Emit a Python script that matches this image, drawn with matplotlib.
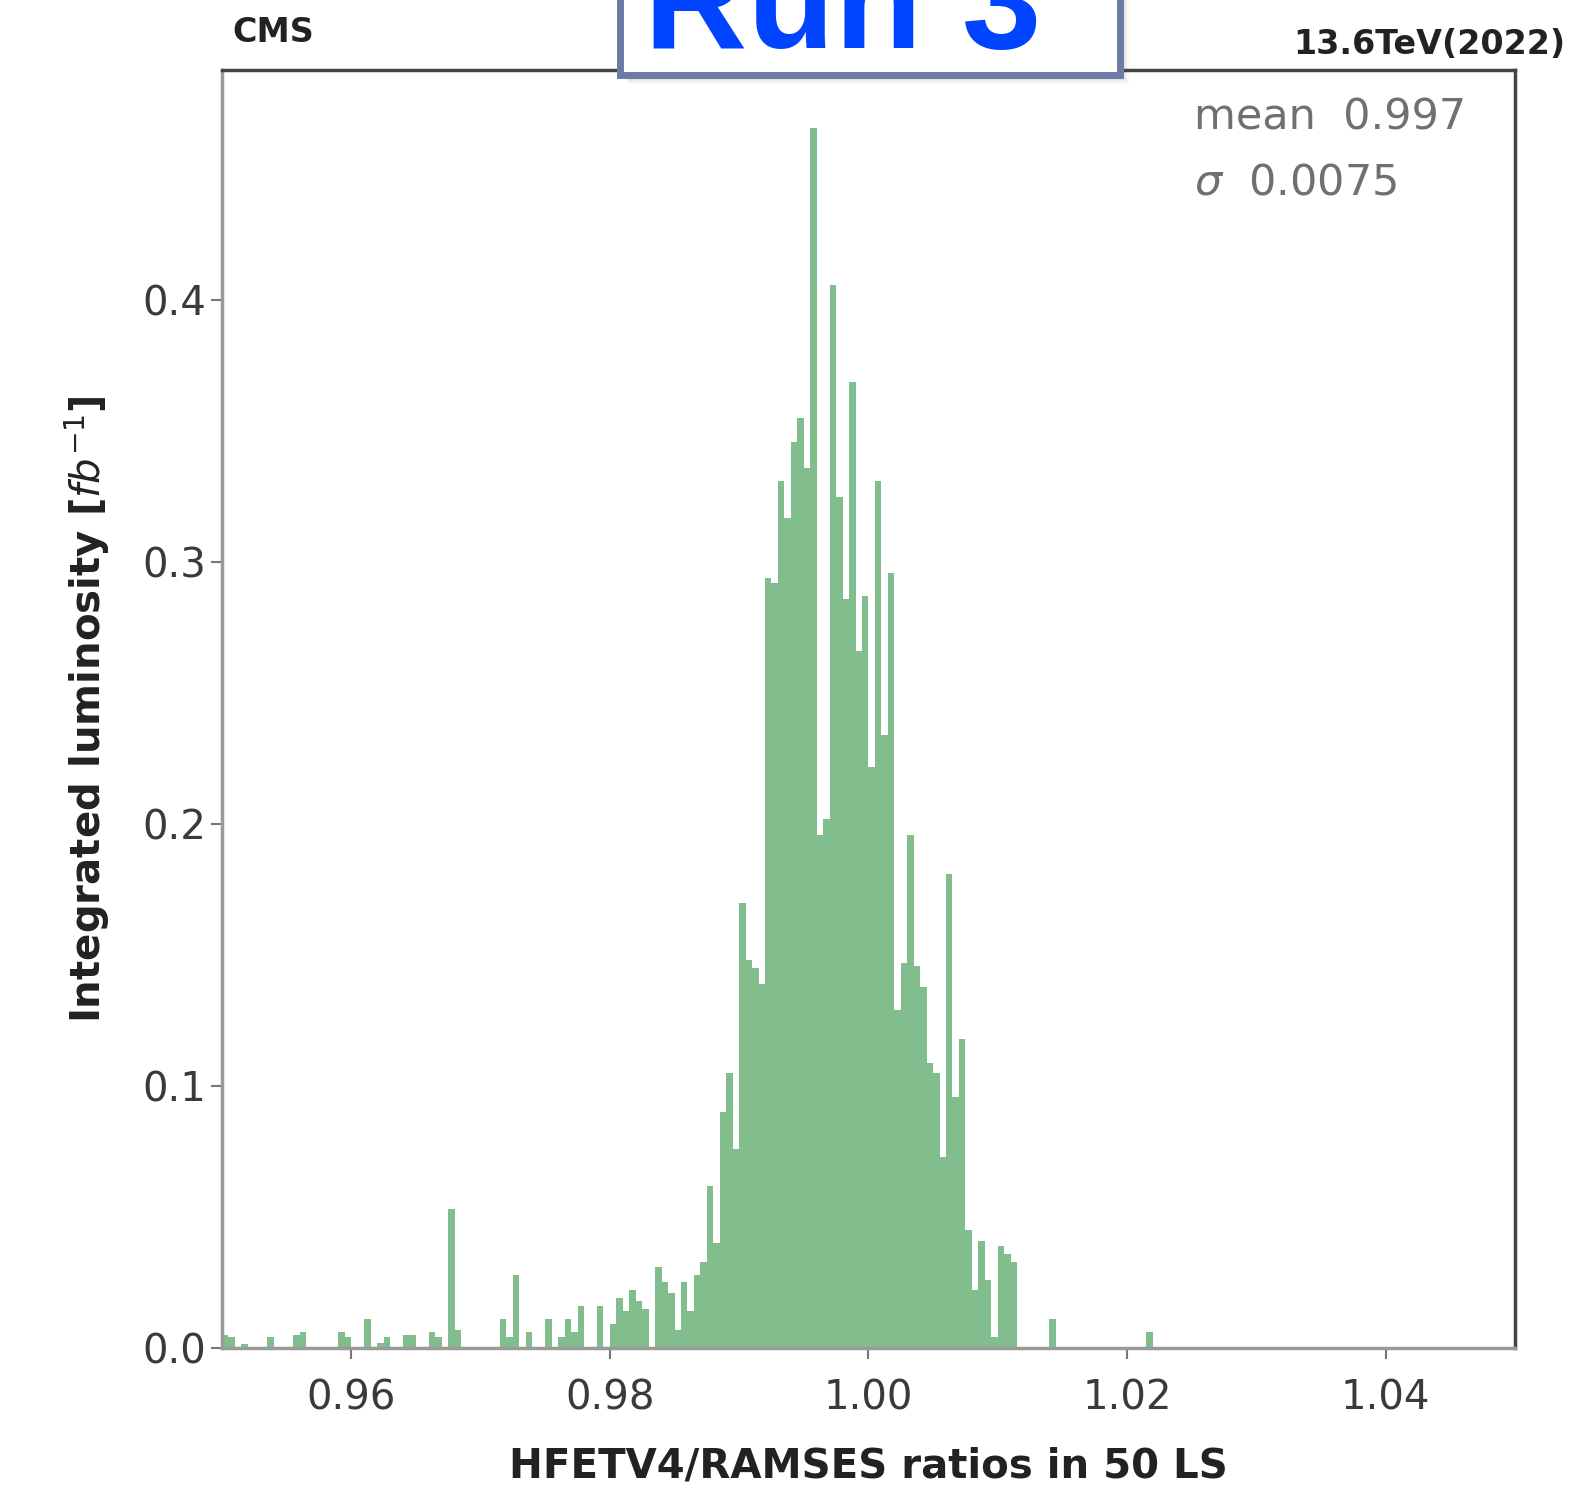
import numpy as np
import matplotlib
matplotlib.use("Agg")
import matplotlib.pyplot as plt
from matplotlib.patches import Rectangle

# Histogram of HFETV4/RAMSES ratios (50 LS blocks), weighted by integrated luminosity
bin_width = 0.0005
ratio_start = 0.95
lumi_per_bin = [
    0.005, 0.004, 0.0, 0.0015, 0.0, 0.0, 0.0, 0.004, 0.0, 0.0,       # 0.950 -
    0.0, 0.005, 0.006, 0.0, 0.0, 0.0, 0.0, 0.0, 0.006, 0.004,        # 0.955 -
    0.0, 0.0, 0.011, 0.0, 0.002, 0.004, 0.0, 0.0, 0.005, 0.005,      # 0.960 -
    0.0, 0.0, 0.006, 0.004, 0.0, 0.053, 0.007, 0.0, 0.0, 0.0,        # 0.965 -
    0.0, 0.0, 0.0, 0.011, 0.004, 0.028, 0.0, 0.006, 0.0, 0.0,        # 0.970 -
    0.011, 0.0, 0.004, 0.011, 0.006, 0.016, 0.0, 0.0, 0.016, 0.0,    # 0.975 -
    0.009, 0.019, 0.014, 0.022, 0.018, 0.015, 0.0, 0.031, 0.025, 0.021,   # 0.980 -
    0.007, 0.025, 0.014, 0.028, 0.033, 0.062, 0.040, 0.090, 0.105, 0.076, # 0.985 -
    0.170, 0.148, 0.145, 0.139, 0.294, 0.292, 0.331, 0.317, 0.346, 0.355, # 0.990 -
    0.336, 0.466, 0.196, 0.202, 0.406, 0.325, 0.286, 0.369, 0.266, 0.287, # 0.995 -
    0.222, 0.331, 0.234, 0.296, 0.129, 0.147, 0.196, 0.146, 0.138, 0.109, # 1.000 -
    0.105, 0.073, 0.181, 0.096, 0.118, 0.045, 0.022, 0.041, 0.026, 0.004, # 1.005 -
    0.039, 0.036, 0.033, 0.0, 0.0, 0.0, 0.0, 0.0, 0.011, 0.0,        # 1.010 -
    0.0, 0.0, 0.0, 0.0, 0.0, 0.0, 0.0, 0.0, 0.0, 0.0,                # 1.015 -
    0.0, 0.0, 0.0, 0.006,                                            # 1.020 -
]
mean_text = "mean  0.997"
sigma_text = r"$\sigma$  0.0075"
x_ticks = [0.96, 0.98, 1.00, 1.02, 1.04]
y_ticks = [0.0, 0.1, 0.2, 0.3, 0.4]

fig = plt.figure(figsize=(15.73, 14.87), dpi=100)
ax = fig.add_axes([0.1411, 0.0935, 0.8220, 0.8594])

left_edges = ratio_start + bin_width * np.arange(len(lumi_per_bin))
ax.bar(left_edges, lumi_per_bin, width=bin_width, align="edge",
       color="#82bd8e", linewidth=0)

ax.set_xlim(0.95, 1.05)
ax.set_ylim(0, 0.488)
ax.set_xticks(x_ticks)
ax.set_xticklabels([f"{t:.2f}" for t in x_ticks])
ax.set_yticks(y_ticks)
ax.set_yticklabels([f"{t:.1f}" for t in y_ticks])
ax.tick_params(axis="both", labelsize=29, labelcolor="#3a3a3a", color="#777777",
               length=8, width=1.5, direction="out")
ax.tick_params(axis="x", pad=14)

for side in ("left", "bottom"):
    ax.spines[side].set_color("#9a9a9a")
    ax.spines[side].set_linewidth(2.5)
for side in ("top", "right"):
    ax.spines[side].set_color("#444444")
    ax.spines[side].set_linewidth(2.5)

ax.set_xlabel("HFETV4/RAMSES ratios in 50 LS", fontsize=29, fontweight="bold",
              color="#222222", labelpad=20)
ax.set_ylabel(r"Integrated luminosity [$fb^{-1}$]", fontsize=29, fontweight="bold",
              color="#222222", labelpad=22)

ax.text(0.752, 0.963, mean_text, transform=ax.transAxes, fontsize=31,
        color="#707070", va="center", ha="left")
ax.text(0.752, 0.912, sigma_text, transform=ax.transAxes, fontsize=31,
        color="#707070", va="center", ha="left")

fig.text(0.148, 0.972, "CMS", fontsize=24, fontweight="bold", color="#222222",
         ha="left", va="baseline")
fig.text(0.995, 0.964, "13.6TeV(2022)", fontsize=24, fontweight="bold",
         color="#222222", ha="right", va="baseline")

# "Run 3" banner box with a soft drop shadow
W, H = fig.get_size_inches() * fig.dpi
bx0, bx1, by0, by1 = 620 / W, 1120 / W, 1 - 75 / H, 1.05
for i, a in enumerate([0.10, 0.08, 0.06, 0.04]):
    off = (3 + 2 * i)
    fig.patches.append(Rectangle((bx0 + off / W, by0 - off / H), bx1 - bx0, by1 - by0,
                                 transform=fig.transFigure, facecolor="#555555",
                                 alpha=a, edgecolor="none", zorder=5))
fig.patches.append(Rectangle((bx0, by0), bx1 - bx0, by1 - by0,
                             transform=fig.transFigure, facecolor="white",
                             edgecolor="#6e7aa6", linewidth=5, zorder=6))
fig.text(843 / W, 1 - 48 / H, "Run 3", fontsize=103, fontweight="bold",
         family="Liberation Sans", color="#0044ff", ha="center", va="baseline",
         zorder=7)

fig.savefig("out.png", dpi=100, facecolor="white")
